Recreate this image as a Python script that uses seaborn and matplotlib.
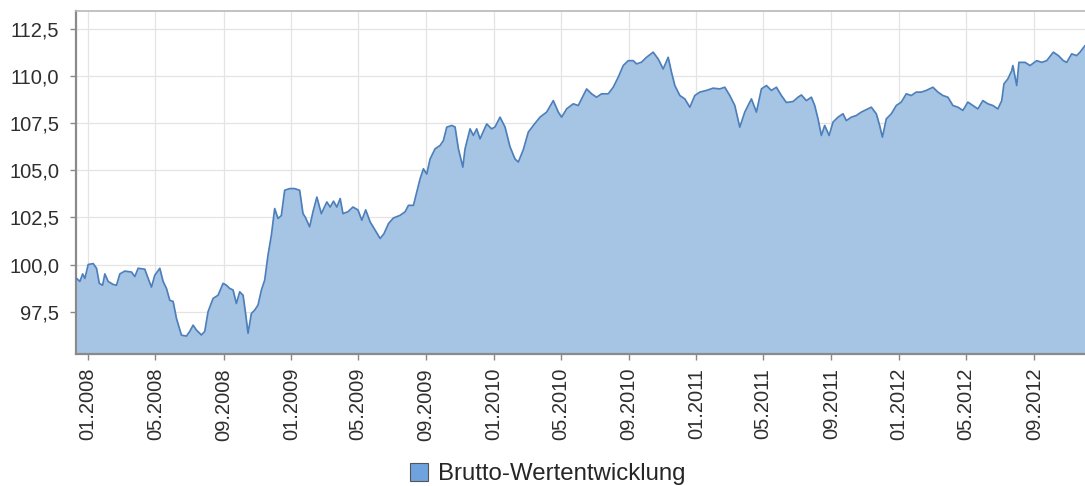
import matplotlib
matplotlib.use("Agg")
import matplotlib.pyplot as plt
import matplotlib.dates as mdates
from matplotlib.ticker import FuncFormatter, FixedLocator
from matplotlib.patches import Patch
import seaborn as sns
import pandas as pd

sns.set_theme(style="white")
plt.rcParams["font.family"] = ["Liberation Sans", "DejaVu Sans"]

series_name = "Brutto-Wertentwicklung"

dates = [
    "2007-12-11", "2007-12-17", "2007-12-22", "2007-12-26", "2008-01-01", "2008-01-10", "2008-01-16", "2008-01-21",
    "2008-01-27", "2008-01-31", "2008-02-06", "2008-02-15", "2008-02-21", "2008-02-27", "2008-03-07", "2008-03-19",
    "2008-03-25", "2008-03-31", "2008-04-12", "2008-04-18", "2008-04-24", "2008-04-30", "2008-05-09", "2008-05-15",
    "2008-05-21", "2008-05-27", "2008-06-02", "2008-06-08", "2008-06-17", "2008-06-26", "2008-07-02", "2008-07-08",
    "2008-07-14", "2008-07-23", "2008-07-29", "2008-08-04", "2008-08-13", "2008-08-22", "2008-08-31", "2008-09-06",
    "2008-09-12", "2008-09-18", "2008-09-24", "2008-09-30", "2008-10-06", "2008-10-11", "2008-10-15", "2008-10-21",
    "2008-10-27", "2008-11-02", "2008-11-08", "2008-11-14", "2008-11-20", "2008-11-26", "2008-12-02", "2008-12-08",
    "2008-12-14", "2008-12-20", "2008-12-29", "2009-01-07", "2009-01-16", "2009-01-22", "2009-01-26", "2009-02-03",
    "2009-02-09", "2009-02-16", "2009-02-24", "2009-03-06", "2009-03-12", "2009-03-18", "2009-03-24", "2009-03-30",
    "2009-04-04", "2009-04-13", "2009-04-22", "2009-05-01", "2009-05-08", "2009-05-15", "2009-05-23", "2009-06-01",
    "2009-06-10", "2009-06-17", "2009-06-25", "2009-07-04", "2009-07-16", "2009-07-25", "2009-07-31", "2009-08-09",
    "2009-08-15", "2009-08-21", "2009-08-27", "2009-09-02", "2009-09-08", "2009-09-17", "2009-09-26", "2009-10-02",
    "2009-10-08", "2009-10-17", "2009-10-23", "2009-10-29", "2009-11-06", "2009-11-10", "2009-11-19", "2009-11-25",
    "2009-12-01", "2009-12-07", "2009-12-19", "2009-12-28", "2010-01-03", "2010-01-12", "2010-01-21", "2010-01-30",
    "2010-02-08", "2010-02-14", "2010-02-23", "2010-03-04", "2010-03-13", "2010-03-25", "2010-04-06", "2010-04-18",
    "2010-04-27", "2010-05-03", "2010-05-12", "2010-05-24", "2010-06-02", "2010-06-08", "2010-06-17", "2010-06-26",
    "2010-07-05", "2010-07-14", "2010-07-26", "2010-08-04", "2010-08-13", "2010-08-22", "2010-08-31", "2010-09-09",
    "2010-09-15", "2010-09-24", "2010-10-03", "2010-10-15", "2010-10-24", "2010-11-02", "2010-11-11", "2010-11-17",
    "2010-11-23", "2010-12-02", "2010-12-11", "2010-12-20", "2010-12-29", "2011-01-07", "2011-01-19", "2011-01-31",
    "2011-02-12", "2011-02-21", "2011-03-02", "2011-03-11", "2011-03-20", "2011-03-29", "2011-04-10", "2011-04-19",
    "2011-04-28", "2011-05-07", "2011-05-16", "2011-05-25", "2011-06-03", "2011-06-12", "2011-06-24", "2011-07-03",
    "2011-07-09", "2011-07-18", "2011-07-27", "2011-08-02", "2011-08-08", "2011-08-14", "2011-08-20", "2011-08-28",
    "2011-09-04", "2011-09-13", "2011-09-22", "2011-09-28", "2011-10-07", "2011-10-16", "2011-10-25", "2011-11-06",
    "2011-11-12", "2011-11-21", "2011-11-27", "2011-12-02", "2011-12-09", "2011-12-18", "2011-12-27", "2012-01-05",
    "2012-01-14", "2012-01-23", "2012-02-01", "2012-02-10", "2012-02-19", "2012-03-02", "2012-03-11", "2012-03-20",
    "2012-03-29", "2012-04-07", "2012-04-16", "2012-04-25", "2012-05-04", "2012-05-13", "2012-05-22", "2012-05-31",
    "2012-06-09", "2012-06-18", "2012-06-27", "2012-07-04", "2012-07-08", "2012-07-15", "2012-07-22", "2012-07-24",
    "2012-07-31", "2012-08-04", "2012-08-15", "2012-08-24", "2012-09-05", "2012-09-14", "2012-09-23", "2012-10-05",
    "2012-10-14", "2012-10-23", "2012-10-29", "2012-11-07", "2012-11-16", "2012-11-22", "2012-12-01",
]

values = [
    99.26, 99.10, 99.50, 99.26, 100.00, 100.05, 99.80, 99.00,
    98.90, 99.50, 99.10, 98.94, 98.90, 99.50, 99.65, 99.60,
    99.36, 99.80, 99.75, 99.26, 98.80, 99.43, 99.80, 99.10,
    98.73, 98.10, 98.04, 97.14, 96.25, 96.20, 96.45, 96.78,
    96.52, 96.26, 96.45, 97.50, 98.20, 98.37, 99.00, 98.90,
    98.73, 98.65, 97.93, 98.55, 98.37, 97.30, 96.35, 97.40,
    97.58, 97.85, 98.64, 99.17, 100.50, 101.55, 102.97, 102.44,
    102.60, 103.94, 104.03, 104.03, 103.94, 102.70, 102.52, 102.00,
    102.80, 103.58, 102.70, 103.32, 103.05, 103.36, 103.05, 103.50,
    102.70, 102.80, 103.05, 102.90, 102.35, 102.90, 102.26, 101.82,
    101.38, 101.64, 102.17, 102.47, 102.61, 102.80, 103.14, 103.14,
    103.85, 104.55, 105.08, 104.80, 105.60, 106.14, 106.32, 106.58,
    107.29, 107.38, 107.30, 106.14, 105.17, 106.14, 107.20, 106.85,
    107.20, 106.67, 107.46, 107.20, 107.30, 107.82, 107.30, 106.25,
    105.60, 105.44, 106.10, 107.03, 107.38, 107.82, 108.09, 108.70,
    108.09, 107.82, 108.26, 108.53, 108.44, 108.79, 109.32, 109.06,
    108.88, 109.06, 109.06, 109.41, 109.94, 110.56, 110.82, 110.82,
    110.65, 110.74, 111.00, 111.27, 110.91, 110.38, 111.00, 110.20,
    109.50, 108.97, 108.79, 108.35, 108.97, 109.15, 109.24, 109.36,
    109.32, 109.41, 108.97, 108.44, 107.29, 108.09, 108.79, 108.09,
    109.32, 109.50, 109.24, 109.41, 108.97, 108.60, 108.65, 108.88,
    109.00, 108.70, 108.88, 108.44, 107.73, 106.85, 107.38, 106.85,
    107.56, 107.82, 108.00, 107.64, 107.82, 107.91, 108.09, 108.26,
    108.35, 108.00, 107.38, 106.76, 107.73, 108.00, 108.44, 108.62,
    109.06, 108.97, 109.15, 109.15, 109.24, 109.41, 109.15, 108.97,
    108.88, 108.44, 108.35, 108.18, 108.62, 108.44, 108.26, 108.70,
    108.53, 108.44, 108.26, 108.70, 109.59, 109.85, 110.29, 110.56,
    109.50, 110.73, 110.73, 110.56, 110.82, 110.73, 110.82, 111.27,
    111.09, 110.82, 110.73, 111.18, 111.09, 111.27, 111.62,
]

y_ticks = [97.5, 100.0, 102.5, 105.0, 107.5, 110.0, 112.5]
x_tick_dates = [
    "2008-01-01", "2008-05-01", "2008-09-01", "2009-01-01", "2009-05-01", "2009-09-01",
    "2010-01-01", "2010-05-01", "2010-09-01", "2011-01-01", "2011-05-01", "2011-09-01",
    "2012-01-01", "2012-05-01", "2012-09-01",
]

assert len(dates) == len(values)
df = pd.DataFrame({"date": pd.to_datetime(dates), "value": values})

fill_color = "#a6c5e5"
line_color = "#4d7fba"

fig = plt.figure(figsize=(10.85, 4.86), dpi=100)
left = 76 / 1085
bottom = 1 - 354 / 486
top = 1 - 11.5 / 486
ax = fig.add_axes([left, bottom, 1.0 - left, top - bottom])
ax.set_facecolor("white")

ymin, ymax = 95.25, 113.43
ax.fill_between(df["date"], df["value"], ymin, color=fill_color, linewidth=0, zorder=2)
sns.lineplot(data=df, x="date", y="value", ax=ax, color=line_color, linewidth=1.25, zorder=3, legend=False)

ax.set_xlim(pd.Timestamp("2007-12-10"), pd.Timestamp("2012-12-01"))
ax.set_ylim(ymin, ymax)

ax.yaxis.set_major_locator(FixedLocator(y_ticks))
ax.yaxis.set_major_formatter(FuncFormatter(lambda v, p: f"{v:.1f}".replace(".", ",")))
xt = [mdates.date2num(pd.Timestamp(d)) for d in x_tick_dates]
ax.xaxis.set_major_locator(FixedLocator(xt))
ax.xaxis.set_major_formatter(mdates.DateFormatter("%m.%Y"))

ax.grid(True, color="#e4e4e4", linewidth=0.9, linestyle="-", zorder=1)
ax.set_axisbelow(True)

for lab in ax.get_xticklabels():
    lab.set_rotation(90)
ax.tick_params(axis="x", which="major", length=4, width=1, color="#888888", labelsize=14.5,
               labelcolor="#2e2e2e", pad=6, bottom=True)
ax.tick_params(axis="y", which="major", length=4, width=1, color="#888888", labelsize=14.5,
               labelcolor="#2e2e2e", pad=8, left=True)

for s in ["left", "bottom"]:
    ax.spines[s].set_color("#8a8a8a")
    ax.spines[s].set_linewidth(1.6)
ax.spines["top"].set_color("#b8b8b8")
ax.spines["top"].set_linewidth(1.2)
ax.spines["right"].set_visible(False)

ax.set_xlabel("")
ax.set_ylabel("")

handle = Patch(facecolor="#6ea3e0", edgecolor="#555555", linewidth=0.8, label=series_name)
fig.legend(handles=[handle], loc="center", bbox_to_anchor=(548 / 1085, 1 - 474 / 486),
           frameon=False, fontsize=17.3, handlelength=0.75, handleheight=0.75, handletextpad=0.4,
           borderaxespad=0)

fig.savefig("out.png", dpi=100)
